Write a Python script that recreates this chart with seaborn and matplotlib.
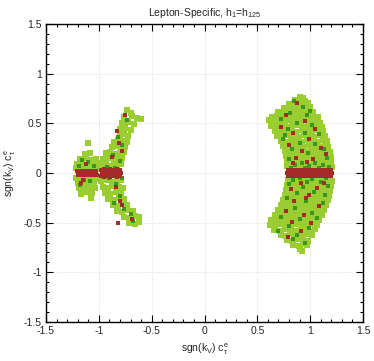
import pandas as pd
import seaborn as sns
import matplotlib as mpl
import matplotlib.pyplot as plt
from matplotlib.ticker import MultipleLocator

# 数据点 (从图中读取的近似位置)
light_pts = [
    # right arc
    (0.90, 0.77), (0.93, 0.76),
    (0.86, 0.73), (0.91, 0.74), (0.95, 0.72),
    (0.80, 0.69), (0.85, 0.70), (0.90, 0.68), (0.95, 0.69), (0.98, 0.70),
    (0.75, 0.65), (0.80, 0.64), (0.85, 0.66), (0.90, 0.65), (0.95, 0.64), (1.00, 0.66),
    (0.70, 0.61), (0.74, 0.60), (0.79, 0.62), (0.84, 0.60), (0.89, 0.61), (0.94, 0.62), (0.99, 0.60), (1.03, 0.61),
    (0.64, 0.56), (0.69, 0.57), (0.74, 0.55), (0.79, 0.56), (0.84, 0.57), (0.89, 0.55), (0.94, 0.56), (0.99, 0.57),
    (1.04, 0.55), (1.07, 0.56),
    (0.61, 0.53), (0.66, 0.51), (0.71, 0.52), (0.76, 0.51), (0.81, 0.53), (0.86, 0.51), (0.91, 0.52), (0.96, 0.53),
    (1.01, 0.51), (1.06, 0.52), (1.09, 0.50),
    (0.63, 0.47), (0.68, 0.46), (0.73, 0.48), (0.78, 0.46), (0.83, 0.47), (0.88, 0.48), (0.93, 0.46), (0.98, 0.47),
    (1.03, 0.46), (1.08, 0.48), (1.11, 0.46),
    (0.67, 0.42), (0.72, 0.41), (0.77, 0.43), (0.82, 0.42), (0.87, 0.41), (0.92, 0.43), (0.97, 0.42), (1.02, 0.41),
    (1.07, 0.43), (1.12, 0.42),
    (0.69, 0.37), (0.74, 0.36), (0.79, 0.38), (0.84, 0.37), (0.89, 0.36), (0.94, 0.38), (0.99, 0.37), (1.04, 0.36),
    (1.09, 0.38), (1.14, 0.37),
    (0.72, 0.32), (0.77, 0.31), (0.82, 0.33), (0.87, 0.32), (0.92, 0.31), (0.97, 0.33), (1.02, 0.32), (1.07, 0.31),
    (1.12, 0.33), (1.16, 0.32),
    (0.74, 0.27), (0.79, 0.26), (0.84, 0.28), (0.89, 0.27), (0.94, 0.26), (0.99, 0.28), (1.04, 0.27), (1.09, 0.26),
    (1.14, 0.28), (1.17, 0.26),
    (0.76, 0.22), (0.81, 0.21), (0.86, 0.23), (0.91, 0.22), (0.96, 0.21), (1.01, 0.23), (1.06, 0.22), (1.11, 0.21),
    (1.16, 0.23), (1.19, 0.21),
    (0.77, 0.17), (0.82, 0.16), (0.87, 0.18), (0.92, 0.17), (0.97, 0.16), (1.02, 0.18), (1.07, 0.17), (1.12, 0.16),
    (1.17, 0.18), (1.20, 0.16),
    (0.78, 0.12), (0.83, 0.11), (0.88, 0.13), (0.93, 0.12), (0.98, 0.11), (1.03, 0.13), (1.08, 0.12), (1.13, 0.11),
    (1.18, 0.13), (1.20, 0.11),
    (0.78, 0.07), (0.83, 0.06), (0.88, 0.08), (0.93, 0.07), (0.98, 0.06), (1.03, 0.08), (1.08, 0.07), (1.13, 0.06),
    (1.18, 0.08), (1.21, 0.06),
    (0.79, -0.07), (0.84, -0.08), (0.89, -0.06), (0.94, -0.07), (0.99, -0.08), (1.04, -0.06), (1.09, -0.07),
    (1.14, -0.08), (1.19, -0.06), (1.21, -0.08),
    (0.78, -0.12), (0.83, -0.13), (0.88, -0.11), (0.93, -0.12), (0.98, -0.13), (1.03, -0.11), (1.08, -0.12),
    (1.13, -0.13), (1.18, -0.11), (1.20, -0.13),
    (0.77, -0.17), (0.82, -0.18), (0.87, -0.16), (0.92, -0.17), (0.97, -0.18), (1.02, -0.16), (1.07, -0.17),
    (1.12, -0.18), (1.17, -0.16), (1.19, -0.18),
    (0.76, -0.22), (0.81, -0.23), (0.86, -0.21), (0.91, -0.22), (0.96, -0.23), (1.01, -0.21), (1.06, -0.22),
    (1.11, -0.23), (1.16, -0.21), (1.18, -0.23),
    (0.74, -0.27), (0.79, -0.28), (0.84, -0.26), (0.89, -0.27), (0.94, -0.28), (0.99, -0.26), (1.04, -0.27),
    (1.09, -0.28), (1.14, -0.26), (1.17, -0.27),
    (0.72, -0.32), (0.77, -0.33), (0.82, -0.31), (0.87, -0.32), (0.92, -0.33), (0.97, -0.31), (1.02, -0.32),
    (1.07, -0.33), (1.12, -0.31), (1.15, -0.32),
    (0.70, -0.37), (0.75, -0.38), (0.80, -0.36), (0.85, -0.37), (0.90, -0.38), (0.95, -0.36), (1.00, -0.37),
    (1.05, -0.38), (1.10, -0.36), (1.13, -0.37),
    (0.67, -0.42), (0.72, -0.43), (0.77, -0.41), (0.82, -0.42), (0.87, -0.43), (0.92, -0.41), (0.97, -0.42),
    (1.02, -0.43), (1.07, -0.41), (1.11, -0.42),
    (0.63, -0.47), (0.68, -0.48), (0.73, -0.46), (0.78, -0.47), (0.83, -0.48), (0.88, -0.46), (0.93, -0.47),
    (0.98, -0.48), (1.03, -0.46), (1.08, -0.47),
    (0.62, -0.52), (0.67, -0.53), (0.72, -0.51), (0.77, -0.52), (0.82, -0.53), (0.87, -0.51), (0.92, -0.52),
    (0.97, -0.53), (1.02, -0.51), (1.06, -0.52),
    (0.66, -0.57), (0.71, -0.58), (0.76, -0.56), (0.81, -0.57), (0.86, -0.58), (0.91, -0.56), (0.96, -0.57),
    (1.01, -0.58), (1.05, -0.56),
    (0.72, -0.62), (0.77, -0.63), (0.82, -0.61), (0.87, -0.62), (0.92, -0.63), (0.97, -0.61), (1.02, -0.62),
    (0.78, -0.67), (0.83, -0.68), (0.88, -0.66), (0.93, -0.67), (0.98, -0.68),
    (0.84, -0.72), (0.89, -0.73), (0.94, -0.71), (0.97, -0.72),
    (0.90, -0.77), (0.92, -0.79),
    # left blob
    (-1.13, 0.19), (-1.08, 0.20),
    (-1.18, 0.14), (-1.12, 0.15), (-1.07, 0.13), (-1.03, 0.14),
    (-1.21, 0.09), (-1.16, 0.10), (-1.11, 0.08), (-1.06, 0.09), (-1.02, 0.10),
    (-1.22, 0.05), (-1.17, 0.04), (-1.12, 0.06), (-1.07, 0.05), (-1.03, 0.04),
    (-1.22, -0.05), (-1.17, -0.06), (-1.12, -0.04), (-1.07, -0.05), (-1.02, -0.06),
    (-1.20, -0.10), (-1.15, -0.11), (-1.10, -0.09), (-1.05, -0.10),
    (-1.19, -0.15), (-1.14, -0.16), (-1.09, -0.14), (-1.04, -0.15),
    (-1.17, -0.21), (-1.12, -0.19), (-1.06, -0.20),
    (-1.10, 0.30), (-1.07, -0.25),
    # left arc
    (-0.73, 0.63), (-0.70, 0.60),
    (-0.76, 0.56), (-0.69, 0.57), (-0.64, 0.55), (-0.60, 0.54),
    (-0.78, 0.50), (-0.72, 0.51), (-0.67, 0.49),
    (-0.80, 0.44), (-0.75, 0.45), (-0.70, 0.43),
    (-0.80, 0.38), (-0.76, 0.39), (-0.72, 0.37),
    (-0.86, 0.31), (-0.82, 0.33), (-0.77, 0.32), (-0.73, 0.31),
    (-0.88, 0.26), (-0.84, 0.27), (-0.79, 0.25), (-0.75, 0.26),
    (-0.93, 0.20), (-0.89, 0.21), (-0.84, 0.19), (-0.80, 0.20), (-0.76, 0.21),
    (-0.96, 0.14), (-0.91, 0.15), (-0.86, 0.13), (-0.82, 0.14), (-0.78, 0.15),
    (-0.98, 0.08), (-0.93, 0.09), (-0.88, 0.07), (-0.83, 0.08), (-0.79, 0.09),
    (-0.98, -0.08), (-0.93, -0.07), (-0.88, -0.09), (-0.83, -0.08), (-0.79, -0.07),
    (-0.96, -0.14), (-0.91, -0.15), (-0.86, -0.13), (-0.81, -0.14), (-0.77, -0.15),
    (-0.94, -0.20), (-0.89, -0.21), (-0.84, -0.19), (-0.79, -0.20),
    (-0.91, -0.26), (-0.86, -0.27), (-0.81, -0.25), (-0.76, -0.26),
    (-0.87, -0.32), (-0.82, -0.33), (-0.77, -0.31), (-0.73, -0.32),
    (-0.83, -0.38), (-0.78, -0.39), (-0.73, -0.37), (-0.68, -0.38),
    (-0.76, -0.44), (-0.71, -0.45), (-0.66, -0.43), (-0.62, -0.44),
    (-0.71, -0.50), (-0.66, -0.51), (-0.62, -0.49),
]

dark_pts = [
    (0.85, 0.72), (0.93, 0.66), (0.81, 0.60), (0.97, 0.58), (0.72, 0.54), (0.88, 0.50), (1.02, 0.48),
    (0.79, 0.44), (0.95, 0.40), (1.08, 0.39), (0.74, 0.34), (0.90, 0.30), (1.05, 0.29), (1.13, 0.24),
    (0.83, 0.24), (0.98, 0.20), (1.16, 0.15), (0.80, 0.14), (0.92, 0.10), (1.05, 0.10), (0.86, 0.08),
    (0.99, 0.07), (1.12, 0.08), (1.18, 0.06), (0.82, 0.05), (0.95, 0.05), (1.08, 0.05), (0.90, -0.05),
    (1.02, -0.06), (1.15, -0.05), (0.84, -0.07), (0.97, -0.09), (1.10, -0.09), (0.80, -0.11),
    (0.93, -0.14), (1.17, -0.13), (0.88, -0.20), (1.04, -0.19), (0.78, -0.25), (0.96, -0.28),
    (1.12, -0.30), (0.86, -0.35), (1.02, -0.40), (0.72, -0.44), (0.90, -0.46), (0.80, -0.53),
    (0.99, -0.55), (0.70, -0.58), (0.88, -0.62), (0.95, -0.70), (0.84, -0.66), (1.06, -0.45),
    (1.14, -0.22), (0.76, 0.38), (1.00, 0.62),
    (-0.73, 0.53), (-0.82, 0.36), (-0.78, 0.28), (-0.87, 0.18), (-0.80, 0.12), (-0.92, 0.06),
    (-0.85, 0.05), (-0.78, -0.05), (-0.90, -0.05), (-0.84, -0.11), (-0.80, -0.23), (-0.86, -0.30),
    (-0.76, -0.36), (-0.70, -0.41), (-0.68, -0.48),
    (-1.16, 0.13), (-1.10, 0.11), (-1.19, 0.07), (-1.05, 0.07), (-1.14, -0.07), (-1.08, -0.08),
    (-1.18, -0.12),
]

red_pts = [
    # right band
    (0.79, 0.035), (0.82, 0.03), (0.85, 0.035), (0.88, 0.03), (0.91, 0.035), (0.94, 0.03), (0.97, 0.035),
    (1.00, 0.03), (1.03, 0.035), (1.06, 0.03), (1.09, 0.035), (1.12, 0.03), (1.15, 0.035), (1.18, 0.03),
    (1.20, 0.035),
    (0.78, 0.0), (0.81, 0.005), (0.84, 0.0), (0.87, -0.005), (0.90, 0.0), (0.93, 0.005), (0.96, 0.0),
    (0.99, -0.005), (1.02, 0.0), (1.05, 0.005), (1.08, 0.0), (1.11, -0.005), (1.14, 0.0), (1.17, 0.005),
    (1.21, 0.0),
    (0.79, -0.035), (0.82, -0.03), (0.85, -0.035), (0.88, -0.03), (0.91, -0.035), (0.94, -0.03),
    (0.97, -0.035), (1.00, -0.03), (1.03, -0.035), (1.06, -0.03), (1.09, -0.035), (1.12, -0.03),
    (1.15, -0.035), (1.18, -0.03), (1.20, -0.035),
    # right scattered
    (0.88, 0.70), (0.77, 0.58), (0.95, 0.52), (1.05, 0.44), (0.84, 0.40), (0.72, 0.46), (0.99, 0.34),
    (0.80, 0.28), (1.10, 0.25), (0.92, 0.22), (0.87, 0.15), (1.03, 0.14), (1.15, 0.19), (0.97, 0.11),
    (0.84, 0.10), (1.13, -0.10), (0.91, -0.10), (0.82, -0.16), (1.06, -0.15), (0.99, -0.22),
    (0.85, -0.28), (1.08, -0.33), (0.77, -0.38), (0.94, -0.42), (0.83, -0.49), (1.01, -0.50),
    (0.91, -0.58), (0.79, -0.64), (0.96, -0.25),
    # left band
    (-1.21, 0.02), (-1.18, 0.025), (-1.15, 0.02), (-1.12, 0.025), (-1.09, 0.02), (-1.06, 0.025),
    (-1.03, 0.02),
    (-1.20, -0.02), (-1.17, -0.025), (-1.14, -0.02), (-1.11, -0.025), (-1.08, -0.02), (-1.05, -0.025),
    (-1.02, -0.02),
    (-0.98, 0.03), (-0.95, 0.04), (-0.92, 0.035), (-0.89, 0.04), (-0.86, 0.03), (-0.83, 0.04),
    (-0.80, 0.035),
    (-0.97, 0.0), (-0.94, 0.0), (-0.91, 0.005), (-0.88, 0.0), (-0.85, -0.005), (-0.82, 0.0),
    (-0.79, 0.0),
    (-0.98, -0.03), (-0.95, -0.04), (-0.92, -0.035), (-0.89, -0.04), (-0.86, -0.03), (-0.83, -0.04),
    (-0.80, -0.035),
    # left scattered
    (-0.75, 0.58), (-0.83, 0.42), (-0.81, 0.30), (-0.78, 0.22), (-0.88, 0.16), (-0.84, -0.14),
    (-0.80, -0.28), (-0.78, -0.32), (-0.82, -0.50), (-0.69, -0.46), (-1.17, -0.10), (-1.12, 0.09),
    (-1.15, -0.07),
]

colors = {'light': '#9acd32', 'dark': '#3c961e', 'red': '#a52a2a'}
sizes = {'light': 15, 'dark': 6, 'red': 6}
major_ticks = [-1.5, -1, -0.5, 0, 0.5, 1, 1.5]
tick_labels = ['-1.5', '-1', '-0.5', '0', '0.5', '1', '1.5']

sns.set_style('ticks')
plt.rcParams['font.family'] = ['Liberation Sans', 'DejaVu Sans']
plt.rcParams['mathtext.fontset'] = 'custom'
plt.rcParams['mathtext.rm'] = 'Liberation Sans'
plt.rcParams['mathtext.it'] = 'Liberation Sans'
plt.rcParams['mathtext.default'] = 'regular'

fig = plt.figure(figsize=(3.74, 3.61), dpi=100)
ax = fig.add_axes([46 / 374, 1 - 322 / 361, 317 / 374, 298 / 361])

for name, pts in [('light', light_pts), ('dark', dark_pts), ('red', red_pts)]:
    d = pd.DataFrame(pts, columns=['x', 'y'])
    sns.scatterplot(data=d, x='x', y='y', color=colors[name], marker='s', s=sizes[name],
                    linewidth=0, legend=False, ax=ax, zorder=3)

ax.set_xlim(-1.5, 1.5)
ax.set_ylim(-1.5, 1.5)
ax.set_xticks(major_ticks)
ax.set_xticklabels(tick_labels)
ax.set_yticks(major_ticks)
ax.set_yticklabels(tick_labels)
ax.xaxis.set_minor_locator(MultipleLocator(0.1))
ax.yaxis.set_minor_locator(MultipleLocator(0.1))
ax.tick_params(which='both', direction='in', top=True, right=True, labelsize=7.5, width=0.8, color='black')
ax.tick_params(which='major', length=5, pad=3)
ax.tick_params(which='minor', length=2.5)
ax.grid(True, which='major', linestyle=(0, (1, 2)), color='#d0d0d0', linewidth=0.6, zorder=0)
for sp in ax.spines.values():
    sp.set_color('black')
    sp.set_linewidth(1.0)

ax.set_xlabel(r'sgn(k$_V$) c$_\tau^e$', fontsize=7.5, labelpad=4)
ax.set_ylabel(r'sgn(k$_V$) c$_\tau^e$', fontsize=7.5, labelpad=4)
ax.set_title(r'Lepton-Specific, h$_1$=h$_{125}$', fontsize=7.5, pad=6)

fig.savefig('out.png', dpi=100)
